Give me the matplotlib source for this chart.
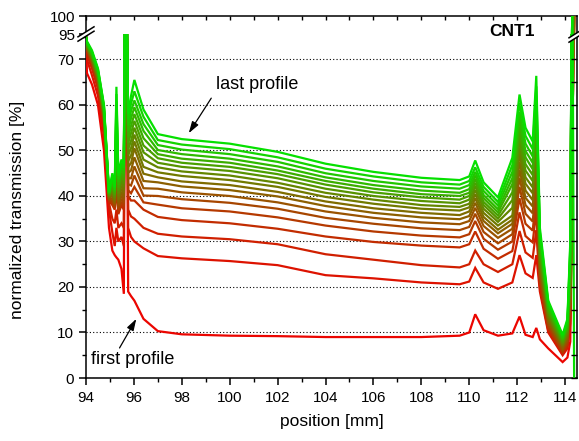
import matplotlib
matplotlib.use('Agg')
import matplotlib.pyplot as plt
from matplotlib.lines import Line2D
from matplotlib.patches import Polygon
import numpy as np

plt.rcParams['font.family'] = ['Liberation Sans', 'DejaVu Sans']

# ---------------- data ----------------
position = [94.0, 94.04, 94.25, 94.5, 94.75, 94.96, 95.1, 95.2, 95.27, 95.35, 95.48, 95.58,
            95.62, 95.7, 95.76, 95.88, 96.02, 96.4, 97.0, 98.0, 100.0, 102.0, 104.0, 106.0,
            108.0, 109.6, 110.0, 110.25, 110.6, 111.2, 111.8, 112.1, 112.35, 112.65, 112.8,
            112.95, 113.3, 113.9, 114.1, 114.22, 114.3, 114.38]

p01 = [75, 67, 64.5, 60, 50, 33, 28, 27, 26.5, 26, 24, 18.5, 82, 82, 19, 18, 17, 13, 10.3, 9.6, 9.3,
       9.2, 9.0, 9.0, 9.0, 9.3, 10.0, 14.0, 10.5, 9.3, 9.8, 13.5, 9.5, 9.0, 11.0, 8.5, 6.5, 3.5, 4.5,
       8.0, 40, 101]
p02 = [74.5, 70, 66.5, 62, 53, 37, 32, 29, 33, 30, 31, 29, 82, 82, 33, 31, 30, 28.5, 26.8, 26.3, 25.7,
       24.8, 22.6, 21.9, 21.0, 20.6, 21.2, 24.2, 21.0, 19.6, 21.0, 27.0, 23.0, 22.0, 27.0, 19.0, 10.0,
       5.0, 6.5, 12.0, 40, 101]
p03 = [74.5, 71, 68, 63.5, 55, 38.5, 35, 34, 37, 33, 34, 33, 82, 82, 37, 35.5, 35, 33, 31.7, 31.1, 30.5,
       29.4, 27.2, 26.0, 24.8, 24.3, 25.0, 28.0, 25.0, 23.3, 25.0, 32.3, 27.6, 26.4, 32.5, 19.9, 10.4,
       5.3, 6.9, 13.1, 40, 101]
p04 = [75, 72, 69, 64.5, 56, 39, 38, 37, 42, 36, 38, 37, 82, 82, 40, 39, 39, 37, 35.4, 34.7, 34.0,
       32.8, 31.1, 29.9, 29.1, 28.7, 29.4, 32.2, 28.4, 26.2, 27.9, 36.4, 31.2, 29.8, 36.7, 20.8, 10.9,
       5.6, 7.3, 14.3, 40, 101]
p05 = [75, 72.1, 69.2, 64.8, 56.3, 39.1, 38.5, 37.4, 43.6, 36.6, 38.7, 37.7, 82, 82, 41.3, 40.6, 42,
       38.6, 38.1, 37.3, 36.6, 35.3, 33.5, 32.2, 31.3, 30.9, 31.6, 34.5, 30.6, 28.2, 30.0, 39.5, 33.9,
       32.4, 40.1, 21.6, 11.3, 5.8, 7.7, 15.4, 40, 101]
p06 = [75, 72.3, 69.4, 65, 56.6, 39.3, 39, 37.7, 45.1, 37.3, 39.4, 38.4, 82, 82, 42.6, 42.3, 44.5,
       40.1, 40.0, 39.3, 38.5, 37.2, 35.2, 33.9, 32.9, 32.5, 33.2, 36.1, 32.1, 29.6, 31.6, 42.0, 36.1,
       34.4, 42.7, 22.5, 11.8, 6.1, 8.1, 16.5, 40, 101]
p07 = [75, 72.4, 69.6, 65.3, 56.9, 39.4, 39.5, 38.1, 46.7, 37.9, 40.1, 39.1, 82, 82, 43.9, 43.9, 46.5,
       41.7, 41.6, 40.8, 40.0, 38.6, 36.6, 35.2, 34.2, 33.8, 34.5, 37.4, 33.4, 30.8, 32.8, 44.0, 38.0,
       36.2, 45.0, 23.4, 12.2, 6.4, 8.5, 17.6, 40, 101]
p08 = [75, 72.6, 69.8, 65.5, 57.2, 39.6, 40, 38.4, 48.3, 38.6, 40.8, 39.8, 82, 82, 45.1, 45.6, 48.5,
       43.3, 43.0, 42.1, 41.3, 39.9, 37.8, 36.3, 35.3, 34.9, 35.6, 38.5, 34.5, 31.8, 33.9, 45.8, 39.6,
       37.7, 47.1, 24.3, 12.6, 6.7, 8.9, 18.8, 40, 101]
p09 = [75, 72.7, 70.1, 65.8, 57.5, 39.7, 40.5, 38.8, 49.9, 39.2, 41.6, 40.6, 82, 82, 46.4, 47.2, 50.5,
       44.9, 44.1, 43.2, 42.4, 40.9, 38.8, 37.3, 36.3, 35.8, 36.6, 39.5, 35.4, 32.6, 34.8, 47.5, 41.2,
       39.1, 49.0, 25.1, 13.1, 7.0, 9.3, 19.9, 40, 101]
p10 = [75, 72.8, 70.3, 66, 57.7, 39.8, 41, 39.2, 51.4, 39.9, 42.3, 41.3, 82, 82, 47.7, 48.9, 52,
       46.4, 45.2, 44.4, 43.5, 42.0, 39.8, 38.3, 37.2, 36.8, 37.5, 40.4, 36.3, 33.5, 35.7, 49.2, 42.7,
       40.6, 50.9, 26.0, 13.5, 7.2, 9.7, 21.0, 101, 101]
p11 = [75, 73.0, 70.5, 66.3, 58, 40, 41.5, 39.5, 53, 40.5, 43, 42, 82, 82, 49, 50.5, 53.5,
       48, 46.3, 45.4, 44.5, 42.9, 40.7, 39.2, 38.0, 37.6, 38.3, 41.3, 37.2, 34.3, 37.4, 50.7, 44.1,
       41.9, 52.7, 26.9, 14.0, 7.5, 10.1, 22.1, 101, 101]
p12 = [75, 73.1, 70.7, 66.5, 58.3, 40.1, 42, 39.9, 54.6, 41.1, 43.7, 42.7, 82, 82, 50.3, 52.1, 55,
       49.6, 47.3, 46.4, 45.5, 43.9, 41.6, 40.0, 38.9, 38.4, 39.2, 42.1, 38.0, 35.0, 39.1, 52.3, 45.6,
       43.3, 54.6, 27.8, 14.4, 7.8, 10.5, 23.3, 101, 101]
p13 = [75, 73.3, 70.9, 66.8, 58.6, 40.3, 42.5, 40.2, 56.1, 41.8, 44.4, 43.4, 82, 82, 51.6, 53.8, 56.5,
       51.1, 48.3, 47.3, 46.4, 44.8, 42.5, 40.8, 39.7, 39.2, 40.0, 42.9, 38.7, 35.7, 40.8, 53.8, 47.0,
       44.6, 56.4, 28.6, 14.8, 8.1, 10.9, 24.4, 101, 101]
p14 = [75, 73.4, 71.1, 67, 58.9, 40.4, 43, 40.6, 57.7, 42.4, 45.1, 44.1, 82, 82, 52.9, 55.4, 58,
       52.7, 49.2, 48.2, 47.3, 45.6, 43.3, 41.6, 40.4, 40.0, 40.7, 43.7, 39.5, 36.4, 42.6, 55.3, 48.5,
       45.9, 58.2, 29.5, 15.3, 8.4, 11.3, 25.5, 101, 101]
p15 = [75, 73.5, 71.3, 67.3, 59.2, 40.5, 43.5, 41, 59.3, 43.1, 45.8, 44.8, 82, 82, 54.2, 57.1, 59.5,
       54.3, 50.1, 49.2, 48.2, 46.5, 44.1, 42.4, 41.2, 40.7, 41.5, 44.5, 40.2, 37.1, 43.9, 56.9, 49.9,
       47.3, 60.0, 30.4, 15.7, 8.6, 11.7, 26.6, 101, 101]
p16 = [75, 73.7, 71.5, 67.5, 59.5, 40.7, 44, 41.3, 60.8, 43.7, 46.5, 45.5, 82, 82, 55.5, 58.7, 61,
       55.8, 51.2, 50.2, 49.2, 47.5, 45.0, 43.3, 42.1, 41.6, 42.4, 45.3, 41.1, 37.9, 45.3, 58.5, 51.5,
       48.7, 62.0, 31.3, 16.2, 8.9, 12.1, 27.8, 101, 101]
p17 = [75, 73.8, 71.7, 67.8, 59.8, 40.8, 44.5, 41.7, 62.4, 44.4, 47.2, 46.2, 82, 82, 56.8, 60.3, 63,
       57.4, 52.3, 51.3, 50.3, 48.5, 46.0, 44.3, 43.0, 42.5, 43.3, 46.3, 42.0, 38.7, 46.8, 60.4, 53.2,
       50.3, 64.1, 32.1, 16.6, 9.2, 12.5, 28.9, 101, 101]
p18 = [75, 74.0, 72.0, 68, 60, 41, 45, 42, 64, 45, 48, 47, 82, 82, 58, 62, 65.5,
       59, 53.6, 52.5, 51.5, 49.7, 47.1, 45.3, 44.0, 43.5, 44.3, 47.8, 43.0, 39.7, 48.4, 62.3, 55.0,
       52.0, 66.4, 33, 17, 9.5, 13, 30, 101, 0]

profiles = [p01, p02, p03, p04, p05, p06, p07, p08, p09, p10, p11, p12, p13, p14, p15, p16, p17, p18]

x_major = list(range(94, 115, 2))
y_major = list(range(0, 71, 10))
y_top_ticks = [95, 100]

# ---------------- layout ----------------
W, H = 579, 441
fig = plt.figure(figsize=(W / 100, H / 100), dpi=100)


def fx(px):
    return px / W


def fy(py):
    return 1 - py / H


L, R, B, BRK, T = 86, 577, 378, 34, 16
ax = fig.add_axes([fx(L), fy(B), fx(R) - fx(L), fy(BRK) - fy(B)])
axt = fig.add_axes([fx(L), fy(BRK), fx(R) - fx(L), fy(T) - fy(BRK)])

red = np.array([0.92, 0.02, 0.0])
green = np.array([0.02, 0.88, 0.0])
n = len(profiles)
for i, prof in enumerate(profiles):
    t = i / (n - 1)
    col = (1 - t) * red + t * green
    for a in (ax, axt):
        a.plot(position, prof, color=col, lw=1.6, solid_joinstyle='miter', zorder=3)

for a in (ax, axt):
    a.set_xlim(94, 114.5)
    for s in a.spines.values():
        s.set_linewidth(1.1)
ax.set_ylim(0, 75.6)
axt.set_ylim(95, 100)

ax.spines['top'].set_visible(False)
axt.spines['bottom'].set_visible(False)

# lower axes ticks
ax.set_xticks(x_major)
ax.set_xticks(list(range(95, 115, 2)), minor=True)
ax.tick_params(axis='x', which='major', direction='out', length=5, width=1.1,
               labelsize=11, top=False, pad=4)
ax.tick_params(axis='x', which='minor', direction='out', length=3, width=1.0, top=False)
ax.set_yticks(y_major)
ax.set_yticks(list(range(5, 76, 10)), minor=True)
ax.tick_params(axis='y', which='major', direction='out', length=5, width=1.1,
               labelsize=11, right=False)
ax.tick_params(axis='y', which='minor', direction='out', length=3, width=1.0, right=False)
ax.yaxis.grid(True, which='major', linestyle=(0, (1, 2)), color='k', lw=0.8)
ax.set_axisbelow(True)

# right inward ticks
axr = ax.twinx()
axr.set_ylim(0, 75.6)
axr.set_yticks(list(range(0, 76, 5)))
axr.tick_params(axis='y', direction='in', length=4, width=1.0, labelright=False)
for s in axr.spines.values():
    s.set_visible(False)

# top axes ticks
axt.set_xticks(list(range(94, 115)))
axt.tick_params(axis='x', which='both', bottom=False, labelbottom=False, top=True,
                labeltop=False, direction='in', length=3, width=1.0)
axt.set_yticks(y_top_ticks)
axt.tick_params(axis='y', direction='out', length=5, width=1.1, labelsize=11, right=False,
                pad=3)

ax.set_xlabel('position [mm]', fontsize=12.5, labelpad=7)
fig.text(fx(18), fy(210), 'normalized transmission [%]', rotation=90, ha='center',
         va='center', fontsize=12.5)

# annotations
ax.text(99.41, 64.4, 'last profile', fontsize=13, ha='left', va='center')
ax.annotate('', xy=(98.29, 53.8), xytext=(99.23, 61.5),
            arrowprops=dict(arrowstyle='-|>,head_length=0.7,head_width=0.22', color='k',
                            lw=0.9, shrinkA=0, shrinkB=0), zorder=6)
ax.text(94.22, 4.0, 'first profile', fontsize=13, ha='left', va='center')
ax.annotate('', xy=(96.1, 13.0), xytext=(95.40, 6.6),
            arrowprops=dict(arrowstyle='-|>,head_length=0.7,head_width=0.22', color='k',
                            lw=0.9, shrinkA=0, shrinkB=0), zorder=6)

fig.text(fx(512), fy(31.5), 'CNT1', fontsize=12.5, fontweight='bold', ha='center',
         va='center')


# break marks
def break_mark(cx, cy):
    hx, hy, g = 8, 5, 2.2
    pts = [(cx - hx, cy + hy - g), (cx + hx, cy - hy - g), (cx + hx, cy - hy + g),
           (cx - hx, cy + hy + g)]
    fig.add_artist(Polygon([(fx(px), fy(py)) for px, py in pts], closed=True,
                           transform=fig.transFigure, fc='white', ec='none', zorder=10))
    for off in (-g, g):
        fig.add_artist(Line2D([fx(cx - hx), fx(cx + hx)],
                              [fy(cy + hy + off), fy(cy - hy + off)],
                              transform=fig.transFigure, color='k', lw=1.1, zorder=11))


break_mark(L, BRK)
break_mark(R, BRK + 1)

fig.savefig('out.png', dpi=100)
